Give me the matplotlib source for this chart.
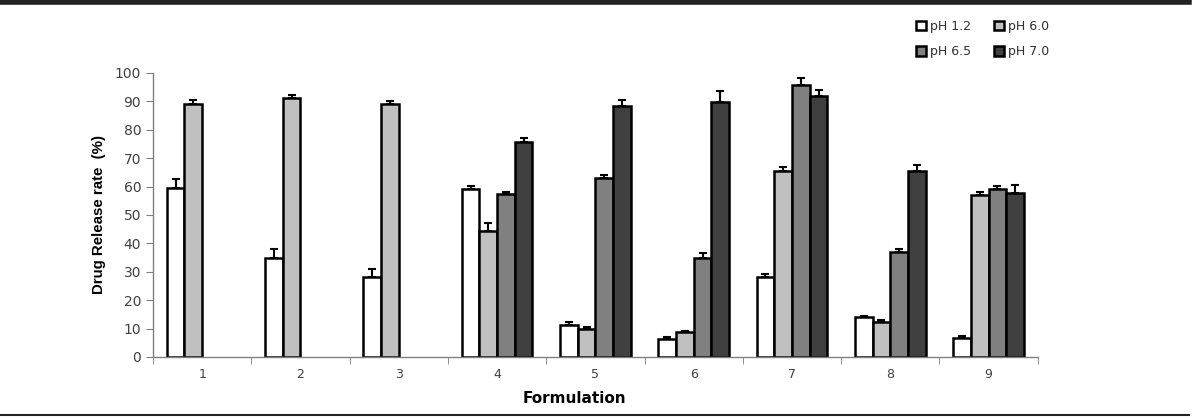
import numpy as np
import matplotlib
matplotlib.use("Agg")
import matplotlib.pyplot as plt
from matplotlib.lines import Line2D

categories = ["1", "2", "3", "4", "5", "6", "7", "8", "9"]
series_names = ["pH 1.2", "pH 6.0", "pH 6.5", "pH 7.0"]
ph12 = [59.4, 34.8, 28.3, 59.2, 11.2, 6.3, 28.3, 14.1, 6.6]
ph60 = [89.2, 91.3, 89.2, 44.4, 10.0, 8.9, 65.6, 12.3, 56.9]
ph65 = [np.nan, np.nan, np.nan, 57.5, 63.0, 34.8, 95.7, 36.9, 59.0]
ph70 = [np.nan, np.nan, np.nan, 75.6, 88.5, 89.7, 92.0, 65.6, 57.6]
err12 = [3.3, 3.1, 2.7, 1.0, 1.0, 0.8, 0.8, 0.3, 0.7]
err60 = [1.4, 0.8, 1.0, 2.7, 0.7, 0.3, 1.2, 0.8, 1.1]
err65 = [np.nan, np.nan, np.nan, 0.7, 0.9, 1.7, 2.4, 1.0, 1.2]
err70 = [np.nan, np.nan, np.nan, 1.4, 1.8, 4.0, 2.1, 1.9, 2.9]

values = [ph12, ph60, ph65, ph70]
errors = [err12, err60, err65, err70]
colors = ["#ffffff", "#c0c0c0", "#808080", "#404040"]

fig = plt.figure(figsize=(11.99, 4.19), dpi=100)
ax = fig.add_axes([0.1276, 0.148, 0.7379, 0.678])

x = np.arange(1, len(categories) + 1)
w = 0.18
handles = []
for i, (vals, errs, c, name) in enumerate(zip(values, errors, colors, series_names)):
    pos = x + (i - 1.5) * w
    vals = np.array(vals, dtype=float)
    errs = np.array(errs, dtype=float)
    b = ax.bar(pos, vals, width=w, color=c, edgecolor="black", linewidth=1.8,
               label=name, zorder=2)
    handles.append(b)
    mask = ~np.isnan(vals)
    ax.errorbar(pos[mask], vals[mask], yerr=[np.zeros(mask.sum()), errs[mask]],
                fmt="none", ecolor="black", elinewidth=1.5, capsize=3, capthick=1.5,
                zorder=1)

ax.set_xlim(0.5, 9.5)
ax.set_ylim(0, 100)
ax.set_yticks(np.arange(0, 101, 10))
ax.set_xticks(x)
ax.set_xticklabels(categories, fontsize=9, color="#404040")
ax.set_xticks(np.arange(0.5, 9.6, 1), minor=True)
ax.tick_params(axis="x", which="major", length=0, pad=8)
ax.tick_params(axis="x", which="minor", length=5, color="#808080", direction="out")
ax.tick_params(axis="y", labelsize=10, labelcolor="#404040", length=5,
               color="#808080", direction="out")
for s in ["top", "right"]:
    ax.spines[s].set_visible(False)
for s in ["left", "bottom"]:
    ax.spines[s].set_color("#808080")
    ax.spines[s].set_linewidth(1.0)

ax.set_ylabel("Drug Release rate  (%)", fontsize=10.8, fontweight="bold",
              family="Liberation Sans")
ax.yaxis.set_label_coords(-0.053, 0.5)
ax.set_xlabel("Formulation", fontsize=11, fontweight="bold")
ax.xaxis.set_label_coords(0.476, -0.12)

order = [handles[0], handles[2], handles[1], handles[3]]
labels = [series_names[0], series_names[2], series_names[1], series_names[3]]
leg = fig.legend(order, labels, ncol=2, loc="upper left",
                 bbox_to_anchor=(0.755, 0.98), frameon=False, fontsize=9,
                 handlelength=0.8, handleheight=0.8, handletextpad=0.3,
                 columnspacing=1.8, labelspacing=1.0)
for t in leg.get_texts():
    t.set_color("#303030")

fig.add_artist(Line2D([0, 0.992], [0.996, 0.996], transform=fig.transFigure,
                      color="#222222", linewidth=4))
fig.add_artist(Line2D([0, 0.992], [0.0095, 0.0095], transform=fig.transFigure,
                      color="#222222", linewidth=1.5))

fig.savefig("out.png", dpi=100)
